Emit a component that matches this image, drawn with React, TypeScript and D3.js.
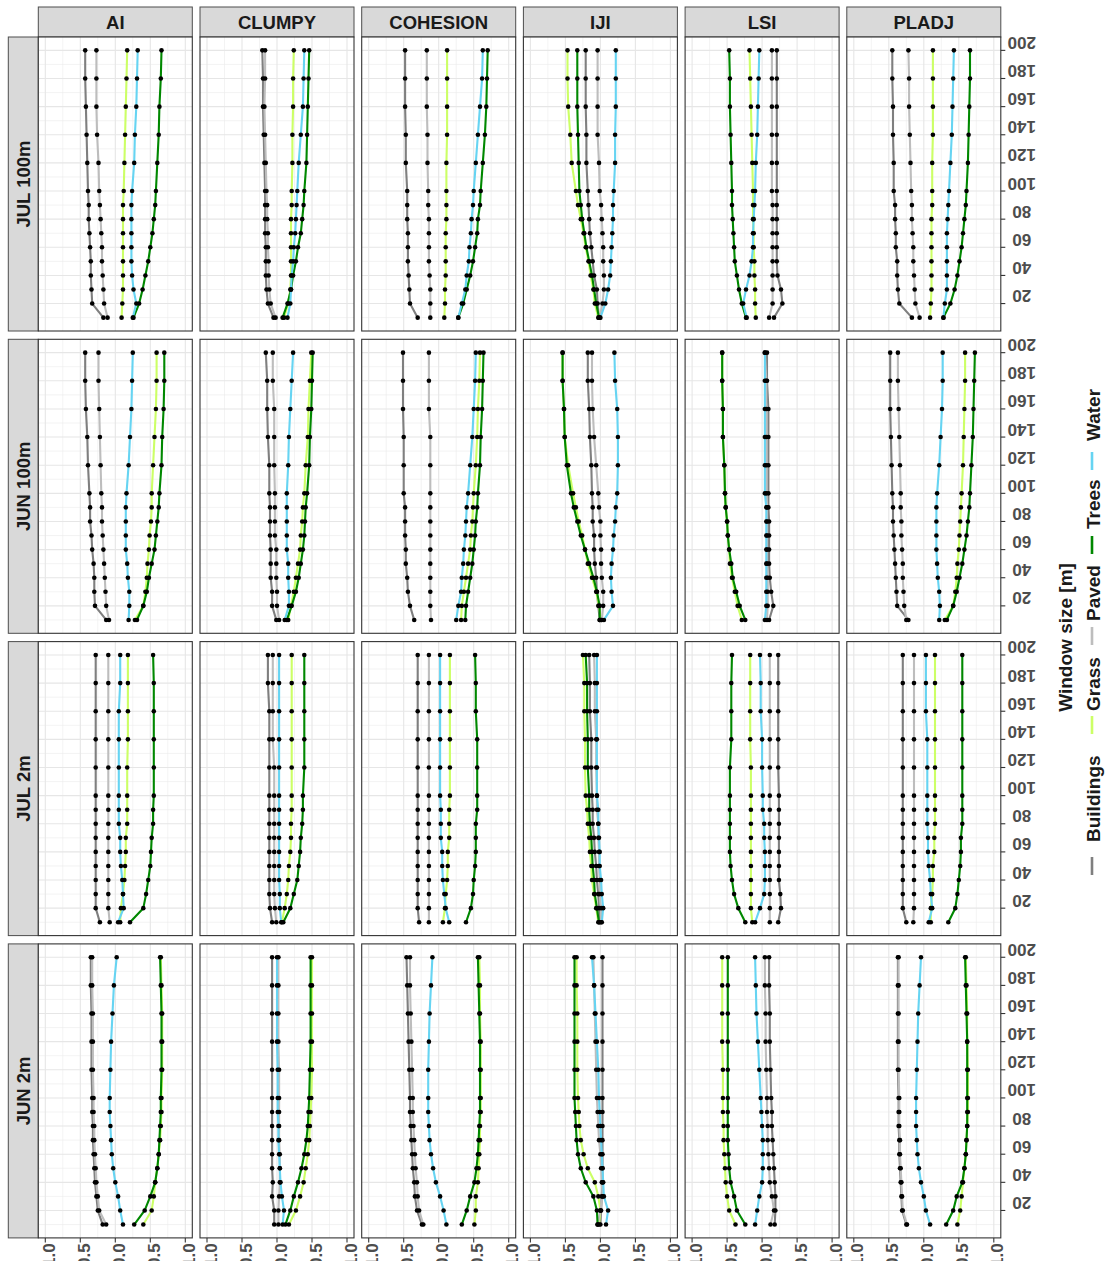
import React from 'react';
import * as d3 from 'd3';

// window sizes [m] on the vertical axis, values on the horizontal one
const windowSizes = [10, 20, 30, 40, 50, 60, 70, 80, 90, 100, 120, 140, 160, 180, 200];
const windowTicks = [20, 40, 60, 80, 100, 120, 140, 160, 180, 200];
const valueTicks = [1, 0.5, 0, -0.5, -1];
const valueTickLabels = ['1.0', '0.5', '0.0', '-0.5', '-1.0'];
const metrics = ['AI', 'CLUMPY', 'COHESION', 'IJI', 'LSI', 'PLADJ'];
const datasets = ['JUL 100m', 'JUN 100m', 'JUL 2m', 'JUN 2m'];
const classes = ['Buildings', 'Grass', 'Paved', 'Trees', 'Water'];
const classColors = ['#7f7f7f', '#ccff66', '#bdbdbd', '#008800', '#66d4f2'];

// every block: [Buildings, Grass, Paved, Trees, Water], one value per window size
const jul100AI = [
  [0.17, 0.33, 0.34, 0.35, 0.35, 0.36, 0.37, 0.38, 0.38, 0.39, 0.40, 0.41, 0.42, 0.43, 0.43],
  [-0.09, -0.10, -0.11, -0.11, -0.11, -0.11, -0.11, -0.11, -0.11, -0.12, -0.13, -0.14, -0.15, -0.16, -0.17],
  [0.11, 0.16, 0.17, 0.18, 0.19, 0.19, 0.20, 0.21, 0.22, 0.23, 0.24, 0.26, 0.27, 0.27, 0.27],
  [-0.26, -0.34, -0.39, -0.43, -0.47, -0.50, -0.53, -0.55, -0.57, -0.58, -0.60, -0.62, -0.63, -0.65, -0.66],
  [-0.25, -0.30, -0.26, -0.24, -0.23, -0.23, -0.23, -0.23, -0.23, -0.24, -0.27, -0.28, -0.30, -0.31, -0.32],
];
const jul100CLUMPY = [
  [0.05, 0.13, 0.15, 0.16, 0.16, 0.16, 0.17, 0.17, 0.17, 0.17, 0.18, 0.19, 0.20, 0.20, 0.21],
  [-0.10, -0.16, -0.19, -0.20, -0.20, -0.20, -0.20, -0.20, -0.21, -0.21, -0.22, -0.22, -0.23, -0.23, -0.24],
  [0.02, 0.09, 0.11, 0.12, 0.12, 0.13, 0.13, 0.14, 0.14, 0.15, 0.16, 0.17, 0.18, 0.17, 0.17],
  [-0.08, -0.15, -0.20, -0.23, -0.27, -0.30, -0.34, -0.36, -0.38, -0.39, -0.42, -0.43, -0.44, -0.45, -0.46],
  [-0.15, -0.19, -0.20, -0.21, -0.23, -0.24, -0.26, -0.27, -0.28, -0.29, -0.31, -0.34, -0.37, -0.38, -0.39],
];
const jul100COHESION = [
  [0.30, 0.41, 0.42, 0.43, 0.44, 0.44, 0.44, 0.45, 0.45, 0.45, 0.47, 0.47, 0.48, 0.48, 0.48],
  [-0.08, -0.09, -0.09, -0.10, -0.10, -0.10, -0.10, -0.11, -0.11, -0.11, -0.11, -0.12, -0.12, -0.12, -0.12],
  [0.12, 0.12, 0.12, 0.13, 0.14, 0.14, 0.14, 0.14, 0.15, 0.15, 0.16, 0.16, 0.17, 0.17, 0.17],
  [-0.28, -0.35, -0.40, -0.45, -0.49, -0.52, -0.55, -0.56, -0.59, -0.60, -0.63, -0.66, -0.68, -0.69, -0.70],
  [-0.28, -0.33, -0.38, -0.40, -0.43, -0.44, -0.46, -0.47, -0.49, -0.50, -0.53, -0.56, -0.59, -0.62, -0.63],
];
const jul100IJI = [
  [0.02, 0.04, 0.05, 0.09, 0.11, 0.13, 0.15, 0.16, 0.17, 0.18, 0.20, 0.20, 0.21, 0.21, 0.21],
  [0.03, 0.08, 0.10, 0.14, 0.17, 0.21, 0.24, 0.28, 0.32, 0.35, 0.41, 0.43, 0.46, 0.47, 0.47],
  [0.01, -0.03, -0.05, -0.05, -0.04, -0.04, -0.03, -0.02, -0.01, 0.01, 0.02, 0.04, 0.04, 0.04, 0.04],
  [0.02, 0.06, 0.09, 0.12, 0.16, 0.20, 0.23, 0.26, 0.28, 0.30, 0.31, 0.32, 0.33, 0.33, 0.33],
  [0.00, -0.07, -0.11, -0.14, -0.15, -0.16, -0.17, -0.18, -0.18, -0.19, -0.21, -0.21, -0.22, -0.22, -0.22],
];
const jul100LSI = [
  [-0.17, -0.29, -0.27, -0.22, -0.21, -0.21, -0.21, -0.21, -0.21, -0.21, -0.21, -0.21, -0.21, -0.21, -0.21],
  [0.09, 0.10, 0.10, 0.11, 0.11, 0.12, 0.12, 0.13, 0.13, 0.13, 0.14, 0.15, 0.16, 0.17, 0.18],
  [-0.10, -0.15, -0.15, -0.15, -0.15, -0.15, -0.15, -0.15, -0.15, -0.14, -0.14, -0.14, -0.14, -0.14, -0.14],
  [0.23, 0.29, 0.33, 0.36, 0.39, 0.40, 0.41, 0.42, 0.43, 0.43, 0.44, 0.45, 0.46, 0.46, 0.47],
  [0.22, 0.27, 0.23, 0.18, 0.15, 0.13, 0.13, 0.12, 0.11, 0.10, 0.09, 0.07, 0.06, 0.05, 0.04],
];
const jul100PLADJ = [
  [0.17, 0.35, 0.37, 0.38, 0.38, 0.40, 0.40, 0.41, 0.41, 0.43, 0.43, 0.44, 0.44, 0.45, 0.45],
  [-0.09, -0.10, -0.11, -0.11, -0.11, -0.11, -0.11, -0.11, -0.12, -0.12, -0.12, -0.13, -0.13, -0.13, -0.13],
  [0.06, 0.12, 0.13, 0.14, 0.15, 0.15, 0.16, 0.17, 0.17, 0.18, 0.19, 0.20, 0.21, 0.21, 0.22],
  [-0.28, -0.38, -0.44, -0.48, -0.51, -0.54, -0.56, -0.58, -0.60, -0.61, -0.63, -0.64, -0.65, -0.66, -0.66],
  [-0.28, -0.30, -0.33, -0.33, -0.33, -0.33, -0.33, -0.34, -0.35, -0.36, -0.38, -0.40, -0.41, -0.42, -0.43],
];

const jun100AI = [
  [0.13, 0.29, 0.30, 0.30, 0.31, 0.33, 0.34, 0.36, 0.36, 0.37, 0.39, 0.40, 0.42, 0.43, 0.43],
  [-0.28, -0.40, -0.43, -0.45, -0.46, -0.48, -0.49, -0.51, -0.52, -0.52, -0.54, -0.56, -0.58, -0.59, -0.59],
  [0.09, 0.13, 0.14, 0.15, 0.16, 0.17, 0.18, 0.19, 0.19, 0.20, 0.21, 0.22, 0.23, 0.24, 0.24],
  [-0.31, -0.40, -0.45, -0.48, -0.52, -0.56, -0.58, -0.60, -0.62, -0.63, -0.66, -0.67, -0.69, -0.70, -0.70],
  [-0.19, -0.20, -0.20, -0.18, -0.17, -0.15, -0.15, -0.15, -0.15, -0.16, -0.19, -0.21, -0.23, -0.24, -0.25],
];
const jun100CLUMPY = [
  [0.01, 0.07, 0.07, 0.09, 0.09, 0.09, 0.10, 0.10, 0.10, 0.11, 0.11, 0.13, 0.14, 0.14, 0.16],
  [-0.16, -0.20, -0.24, -0.27, -0.30, -0.33, -0.34, -0.36, -0.37, -0.39, -0.41, -0.44, -0.45, -0.47, -0.49],
  [-0.03, 0.00, 0.00, 0.01, 0.01, 0.01, 0.03, 0.03, 0.03, 0.03, 0.04, 0.04, 0.04, 0.06, 0.06],
  [-0.14, -0.21, -0.27, -0.31, -0.34, -0.37, -0.39, -0.40, -0.41, -0.43, -0.46, -0.47, -0.49, -0.50, -0.51],
  [-0.11, -0.17, -0.17, -0.16, -0.16, -0.14, -0.14, -0.14, -0.14, -0.14, -0.16, -0.17, -0.19, -0.21, -0.23],
];
const jun100COHESION = [
  [0.35, 0.41, 0.44, 0.45, 0.47, 0.47, 0.48, 0.48, 0.48, 0.50, 0.50, 0.50, 0.51, 0.51, 0.51],
  [-0.32, -0.33, -0.36, -0.39, -0.42, -0.45, -0.46, -0.48, -0.49, -0.50, -0.53, -0.55, -0.56, -0.58, -0.59],
  [0.11, 0.12, 0.12, 0.12, 0.12, 0.12, 0.12, 0.12, 0.12, 0.12, 0.12, 0.12, 0.14, 0.14, 0.14],
  [-0.38, -0.39, -0.42, -0.45, -0.48, -0.50, -0.52, -0.53, -0.55, -0.56, -0.59, -0.60, -0.62, -0.63, -0.64],
  [-0.25, -0.28, -0.32, -0.33, -0.35, -0.36, -0.38, -0.39, -0.40, -0.42, -0.45, -0.48, -0.50, -0.52, -0.53],
];
const jun100IJI = [
  [0.01, 0.03, 0.05, 0.06, 0.08, 0.09, 0.09, 0.11, 0.11, 0.12, 0.13, 0.15, 0.16, 0.18, 0.18],
  [-0.01, 0.02, 0.06, 0.12, 0.18, 0.22, 0.26, 0.31, 0.35, 0.39, 0.46, 0.51, 0.52, 0.54, 0.54],
  [-0.02, -0.04, -0.04, -0.02, -0.01, -0.01, 0.00, 0.00, 0.02, 0.03, 0.06, 0.09, 0.11, 0.12, 0.12],
  [0.01, 0.01, 0.05, 0.10, 0.16, 0.22, 0.28, 0.33, 0.38, 0.42, 0.48, 0.51, 0.52, 0.54, 0.54],
  [-0.05, -0.18, -0.16, -0.15, -0.16, -0.18, -0.19, -0.21, -0.22, -0.24, -0.25, -0.25, -0.24, -0.21, -0.20],
];
const jun100LSI = [
  [-0.10, -0.16, -0.13, -0.11, -0.10, -0.10, -0.10, -0.10, -0.09, -0.09, -0.09, -0.09, -0.09, -0.07, -0.07],
  [0.29, 0.35, 0.39, 0.43, 0.46, 0.47, 0.49, 0.50, 0.52, 0.53, 0.54, 0.56, 0.56, 0.57, 0.57],
  [-0.07, -0.08, -0.08, -0.08, -0.07, -0.07, -0.07, -0.07, -0.07, -0.06, -0.06, -0.06, -0.06, -0.06, -0.04],
  [0.24, 0.32, 0.37, 0.42, 0.44, 0.47, 0.49, 0.50, 0.52, 0.53, 0.54, 0.56, 0.56, 0.57, 0.57],
  [-0.04, -0.06, -0.06, -0.06, -0.06, -0.06, -0.06, -0.06, -0.06, -0.04, -0.04, -0.04, -0.04, -0.04, -0.04],
];
const jun100PLADJ = [
  [0.22, 0.38, 0.39, 0.40, 0.41, 0.42, 0.43, 0.44, 0.44, 0.45, 0.46, 0.47, 0.48, 0.48, 0.48],
  [-0.30, -0.42, -0.45, -0.47, -0.48, -0.50, -0.51, -0.52, -0.53, -0.54, -0.56, -0.57, -0.58, -0.59, -0.59],
  [0.25, 0.28, 0.29, 0.30, 0.30, 0.31, 0.32, 0.32, 0.33, 0.33, 0.34, 0.35, 0.36, 0.37, 0.37],
  [-0.33, -0.42, -0.47, -0.51, -0.55, -0.58, -0.61, -0.63, -0.65, -0.66, -0.68, -0.70, -0.71, -0.72, -0.73],
  [-0.22, -0.23, -0.22, -0.20, -0.19, -0.18, -0.18, -0.18, -0.18, -0.19, -0.22, -0.24, -0.26, -0.27, -0.27],
];

const jul2AI = [
  [0.22, 0.28, 0.28, 0.28, 0.28, 0.28, 0.28, 0.28, 0.28, 0.28, 0.28, 0.28, 0.28, 0.28, 0.28],
  [-0.07, -0.08, -0.11, -0.13, -0.14, -0.15, -0.15, -0.17, -0.17, -0.17, -0.17, -0.18, -0.18, -0.18, -0.18],
  [0.08, 0.10, 0.10, 0.10, 0.10, 0.10, 0.10, 0.10, 0.10, 0.10, 0.10, 0.10, 0.10, 0.10, 0.10],
  [-0.21, -0.40, -0.44, -0.47, -0.50, -0.51, -0.52, -0.54, -0.54, -0.55, -0.55, -0.55, -0.55, -0.55, -0.54],
  [-0.04, -0.12, -0.11, -0.10, -0.08, -0.07, -0.07, -0.05, -0.05, -0.05, -0.05, -0.05, -0.05, -0.07, -0.07],
];
const jul2CLUMPY = [
  [0.07, 0.10, 0.11, 0.11, 0.11, 0.11, 0.11, 0.11, 0.11, 0.11, 0.11, 0.11, 0.11, 0.13, 0.13],
  [-0.07, -0.11, -0.14, -0.16, -0.17, -0.19, -0.20, -0.20, -0.21, -0.21, -0.21, -0.21, -0.21, -0.21, -0.21],
  [0.01, 0.03, 0.04, 0.04, 0.04, 0.04, 0.04, 0.04, 0.04, 0.04, 0.04, 0.06, 0.06, 0.06, 0.06],
  [-0.09, -0.19, -0.24, -0.29, -0.31, -0.33, -0.34, -0.36, -0.37, -0.37, -0.39, -0.39, -0.39, -0.39, -0.39],
  [-0.06, -0.04, -0.04, -0.03, -0.03, -0.03, -0.03, -0.03, -0.03, -0.03, -0.03, -0.03, -0.03, -0.03, -0.03],
];
const jul2COHESION = [
  [0.28, 0.30, 0.30, 0.30, 0.30, 0.30, 0.30, 0.30, 0.30, 0.30, 0.30, 0.30, 0.30, 0.30, 0.30],
  [-0.06, -0.09, -0.10, -0.12, -0.13, -0.13, -0.15, -0.15, -0.15, -0.16, -0.16, -0.16, -0.16, -0.16, -0.16],
  [0.14, 0.14, 0.14, 0.14, 0.14, 0.14, 0.14, 0.14, 0.14, 0.14, 0.14, 0.14, 0.14, 0.14, 0.14],
  [-0.39, -0.46, -0.49, -0.50, -0.52, -0.53, -0.53, -0.53, -0.55, -0.55, -0.55, -0.55, -0.53, -0.53, -0.52],
  [-0.15, -0.10, -0.08, -0.06, -0.05, -0.05, -0.03, -0.03, -0.03, -0.02, -0.02, -0.02, -0.02, -0.02, -0.02],
];
const jul2IJI = [
  [0.01, 0.02, 0.03, 0.05, 0.06, 0.08, 0.09, 0.11, 0.11, 0.12, 0.13, 0.13, 0.15, 0.15, 0.16],
  [0.03, 0.06, 0.09, 0.12, 0.13, 0.15, 0.16, 0.18, 0.19, 0.21, 0.22, 0.22, 0.23, 0.23, 0.25],
  [-0.01, -0.01, 0.01, 0.01, 0.02, 0.02, 0.03, 0.03, 0.05, 0.05, 0.06, 0.06, 0.08, 0.08, 0.09],
  [0.02, 0.05, 0.08, 0.09, 0.11, 0.12, 0.13, 0.15, 0.16, 0.16, 0.18, 0.18, 0.19, 0.19, 0.21],
  [-0.02, -0.04, -0.02, -0.01, 0.01, 0.01, 0.02, 0.03, 0.03, 0.05, 0.05, 0.05, 0.05, 0.05, 0.05],
];
const jul2LSI = [
  [-0.23, -0.27, -0.26, -0.24, -0.24, -0.24, -0.24, -0.24, -0.24, -0.24, -0.23, -0.23, -0.23, -0.23, -0.23],
  [0.14, 0.16, 0.16, 0.16, 0.16, 0.16, 0.16, 0.16, 0.16, 0.16, 0.16, 0.17, 0.17, 0.17, 0.17],
  [-0.11, -0.11, -0.11, -0.11, -0.11, -0.11, -0.11, -0.11, -0.11, -0.11, -0.11, -0.11, -0.11, -0.11, -0.11],
  [0.24, 0.34, 0.40, 0.43, 0.45, 0.46, 0.46, 0.46, 0.46, 0.46, 0.46, 0.44, 0.44, 0.44, 0.43],
  [0.10, 0.03, -0.03, -0.04, -0.04, -0.04, -0.03, -0.03, -0.01, -0.01, 0.00, 0.00, 0.02, 0.02, 0.03],
];
const jul2PLADJ = [
  [0.25, 0.30, 0.30, 0.30, 0.30, 0.30, 0.30, 0.30, 0.30, 0.30, 0.30, 0.30, 0.30, 0.30, 0.30],
  [-0.10, -0.10, -0.12, -0.13, -0.13, -0.15, -0.15, -0.16, -0.16, -0.16, -0.16, -0.16, -0.16, -0.16, -0.16],
  [0.15, 0.14, 0.14, 0.14, 0.14, 0.14, 0.14, 0.14, 0.14, 0.14, 0.14, 0.14, 0.14, 0.14, 0.14],
  [-0.35, -0.45, -0.48, -0.50, -0.52, -0.53, -0.53, -0.55, -0.55, -0.55, -0.55, -0.55, -0.55, -0.55, -0.55],
  [-0.07, -0.12, -0.10, -0.09, -0.07, -0.06, -0.06, -0.05, -0.05, -0.05, -0.05, -0.05, -0.03, -0.03, -0.03],
];

const jun2AI = [
  [0.18, 0.25, 0.27, 0.29, 0.30, 0.31, 0.32, 0.32, 0.33, 0.33, 0.34, 0.34, 0.34, 0.35, 0.35],
  [-0.40, -0.52, -0.55, -0.57, -0.60, -0.62, -0.64, -0.65, -0.66, -0.66, -0.67, -0.67, -0.67, -0.66, -0.65],
  [0.13, 0.23, 0.25, 0.27, 0.28, 0.29, 0.30, 0.30, 0.31, 0.31, 0.32, 0.32, 0.32, 0.33, 0.33],
  [-0.27, -0.42, -0.50, -0.57, -0.60, -0.62, -0.63, -0.64, -0.65, -0.65, -0.66, -0.66, -0.66, -0.65, -0.64],
  [-0.11, -0.07, -0.04, 0.00, 0.03, 0.05, 0.06, 0.07, 0.08, 0.08, 0.07, 0.06, 0.04, 0.02, -0.02],
];
const jun2CLUMPY = [
  [0.04, 0.04, 0.07, 0.06, 0.07, 0.07, 0.07, 0.07, 0.07, 0.07, 0.07, 0.07, 0.07, 0.07, 0.07],
  [-0.17, -0.27, -0.33, -0.38, -0.41, -0.44, -0.46, -0.47, -0.48, -0.49, -0.50, -0.50, -0.50, -0.50, -0.50],
  [-0.02, -0.02, -0.03, -0.04, -0.04, -0.04, -0.03, -0.03, -0.03, -0.03, -0.03, -0.02, -0.02, -0.02, -0.02],
  [-0.12, -0.19, -0.24, -0.30, -0.35, -0.39, -0.42, -0.44, -0.45, -0.46, -0.47, -0.48, -0.48, -0.48, -0.48],
  [-0.08, -0.10, -0.07, -0.05, -0.04, -0.03, -0.02, -0.02, -0.01, -0.01, -0.01, 0.00, 0.00, 0.00, 0.00],
];
const jun2COHESION = [
  [0.24, 0.31, 0.34, 0.35, 0.37, 0.38, 0.39, 0.40, 0.41, 0.41, 0.42, 0.43, 0.44, 0.45, 0.46],
  [-0.51, -0.53, -0.53, -0.56, -0.57, -0.58, -0.59, -0.59, -0.60, -0.60, -0.60, -0.60, -0.59, -0.59, -0.58],
  [0.22, 0.28, 0.30, 0.31, 0.33, 0.34, 0.35, 0.36, 0.37, 0.37, 0.38, 0.39, 0.40, 0.41, 0.41],
  [-0.33, -0.40, -0.45, -0.51, -0.54, -0.56, -0.57, -0.58, -0.59, -0.59, -0.59, -0.59, -0.58, -0.57, -0.56],
  [-0.11, -0.07, -0.02, 0.04, 0.08, 0.11, 0.13, 0.14, 0.15, 0.15, 0.15, 0.14, 0.13, 0.11, 0.09],
];
const jun2IJI = [
  [0.00, -0.01, -0.02, -0.03, -0.03, -0.03, -0.03, -0.03, -0.03, -0.03, -0.03, -0.03, -0.03, -0.03, -0.03],
  [0.02, 0.00, 0.03, 0.08, 0.18, 0.24, 0.28, 0.30, 0.31, 0.32, 0.33, 0.33, 0.33, 0.34, 0.34],
  [0.04, 0.00, -0.03, -0.02, -0.01, 0.00, 0.02, 0.03, 0.04, 0.05, 0.06, 0.07, 0.08, 0.09, 0.10],
  [0.04, 0.05, 0.10, 0.21, 0.28, 0.32, 0.34, 0.35, 0.36, 0.37, 0.37, 0.37, 0.37, 0.37, 0.37],
  [-0.08, -0.11, -0.05, -0.04, -0.03, -0.02, -0.01, 0.00, 0.01, 0.02, 0.03, 0.05, 0.07, 0.09, 0.12],
];
const jun2LSI = [
  [-0.18, -0.19, -0.19, -0.18, -0.17, -0.16, -0.15, -0.14, -0.14, -0.13, -0.12, -0.11, -0.11, -0.10, -0.10],
  [0.38, 0.47, 0.50, 0.52, 0.53, 0.54, 0.55, 0.55, 0.56, 0.56, 0.56, 0.57, 0.57, 0.57, 0.57],
  [-0.12, -0.17, -0.14, -0.11, -0.10, -0.09, -0.08, -0.08, -0.07, -0.07, -0.06, -0.05, -0.05, -0.04, -0.04],
  [0.24, 0.36, 0.40, 0.45, 0.47, 0.48, 0.49, 0.49, 0.49, 0.49, 0.49, 0.49, 0.49, 0.49, 0.49],
  [0.10, 0.07, 0.04, 0.00, -0.01, -0.01, -0.01, 0.00, 0.01, 0.02, 0.04, 0.06, 0.08, 0.09, 0.10],
];
const jun2PLADJ = [
  [0.25, 0.31, 0.32, 0.33, 0.34, 0.35, 0.35, 0.36, 0.36, 0.36, 0.37, 0.37, 0.37, 0.37, 0.37],
  [-0.48, -0.52, -0.54, -0.56, -0.58, -0.60, -0.61, -0.62, -0.63, -0.63, -0.63, -0.62, -0.62, -0.61, -0.60],
  [0.24, 0.30, 0.31, 0.32, 0.33, 0.34, 0.34, 0.35, 0.35, 0.35, 0.36, 0.36, 0.36, 0.36, 0.36],
  [-0.32, -0.42, -0.47, -0.55, -0.58, -0.60, -0.61, -0.62, -0.62, -0.62, -0.62, -0.62, -0.61, -0.60, -0.59],
  [-0.09, -0.03, 0.00, 0.04, 0.07, 0.09, 0.10, 0.11, 0.11, 0.11, 0.10, 0.09, 0.08, 0.06, 0.04],
];

// rows follow datasets, columns follow metrics
const grid = [
  [jul100AI, jul100CLUMPY, jul100COHESION, jul100IJI, jul100LSI, jul100PLADJ],
  [jun100AI, jun100CLUMPY, jun100COHESION, jun100IJI, jun100LSI, jun100PLADJ],
  [jul2AI, jul2CLUMPY, jul2COHESION, jul2IJI, jul2LSI, jul2PLADJ],
  [jun2AI, jun2CLUMPY, jun2COHESION, jun2IJI, jun2LSI, jun2PLADJ],
];

const W = 1107;
const H = 1261;
const panelX0 = 38.3;
const panelW = 154;
const colStep = 161.7;
const panelY0 = 37;
const panelH = 294;
const rowStep = 302.3;
const stripH = 30;
const font = "'Liberation Sans', Arial, Helvetica, sans-serif";

// legend layout along the right edge (reads bottom to top)
const legendKeyY = [866, 725, 636, 545, 461];
const legendTextY = [842, 711, 621, 529, 441];

export default function App() {
  const xScales = metrics.map((_, i) =>
    d3.scaleLinear().domain([1.1, -1.1]).range([panelX0 + i * colStep, panelX0 + i * colStep + panelW])
  );
  const yScales = datasets.map((_, j) =>
    d3.scaleLinear().domain([0.5, 209.5]).range([panelY0 + j * rowStep + panelH, panelY0 + j * rowStep])
  );
  const majorV = valueTicks;
  const minorV = [-0.75, -0.25, 0.25, 0.75];
  const majorW = windowTicks;
  const minorW = d3.range(10, 200, 20);
  const bottom = panelY0 + 3 * rowStep + panelH;
  const right = panelX0 + 5 * colStep + panelW;

  return (
    <svg width={W} height={H} style={{ position: 'absolute', left: 0, top: 0, background: '#fff' }} fontFamily={font}>
      <rect width={W} height={H} fill="#fff" />

      {/* column strips */}
      {metrics.map((m, i) => {
        const [x0, x1] = xScales[i].range();
        return (
          <g key={m}>
            <rect x={x0} y={panelY0 - stripH} width={x1 - x0} height={stripH} fill="#d9d9d9" stroke="#4d4d4d" strokeWidth={1} />
            <text x={(x0 + x1) / 2} y={panelY0 - stripH / 2} textAnchor="middle" dominantBaseline="central"
              fontSize={18.5} fontWeight="bold" fill="#1a1a1a">{m}</text>
          </g>
        );
      })}

      {/* row strips */}
      {datasets.map((d, j) => {
        const [y1, y0] = yScales[j].range();
        const cx = panelX0 - stripH / 2;
        return (
          <g key={d}>
            <rect x={panelX0 - stripH} y={y0} width={stripH} height={y1 - y0} fill="#d9d9d9" stroke="#4d4d4d" strokeWidth={1} />
            <text transform={`translate(${cx},${(y0 + y1) / 2}) rotate(-90)`} textAnchor="middle" dominantBaseline="central"
              fontSize={18.5} fontWeight="bold" fill="#1a1a1a">{d}</text>
          </g>
        );
      })}

      {/* panels */}
      {datasets.map((d, j) =>
        metrics.map((m, i) => {
          const xs = xScales[i];
          const ys = yScales[j];
          const [x0, x1] = xs.range();
          const [y1, y0] = ys.range();
          const blocks = grid[j][i];
          const line = d3.line<number>()
            .x((v) => xs(v))
            .y((_, k) => ys(windowSizes[k]));
          return (
            <g key={d + m}>
              <rect x={x0} y={y0} width={x1 - x0} height={y1 - y0} fill="#fff" />
              {minorV.map((v) => (
                <line key={'mv' + v} x1={xs(v)} x2={xs(v)} y1={y0} y2={y1} stroke="#ebebeb" strokeWidth={0.6} />
              ))}
              {minorW.map((w) => (
                <line key={'mw' + w} x1={x0} x2={x1} y1={ys(w)} y2={ys(w)} stroke="#ebebeb" strokeWidth={0.6} />
              ))}
              {majorV.map((v) => (
                <line key={'Mv' + v} x1={xs(v)} x2={xs(v)} y1={y0} y2={y1} stroke="#e6e6e6" strokeWidth={1.1} />
              ))}
              {majorW.map((w) => (
                <line key={'Mw' + w} x1={x0} x2={x1} y1={ys(w)} y2={ys(w)} stroke="#e6e6e6" strokeWidth={1.1} />
              ))}
              {blocks.map((vals, c) => (
                <path key={'l' + c} d={line(vals) || ''} fill="none" stroke={classColors[c]} strokeWidth={2.1}
                  strokeLinejoin="round" />
              ))}
              {blocks.map((vals, c) =>
                vals.map((v, k) => (
                  <circle key={'p' + c + '-' + k} cx={xs(v)} cy={ys(windowSizes[k])} r={2.3} fill="#000" />
                ))
              )}
              <rect x={x0} y={y0} width={x1 - x0} height={y1 - y0} fill="none" stroke="#333" strokeWidth={1.1} />
            </g>
          );
        })
      )}

      {/* bottom value axis */}
      {metrics.map((m, i) => (
        <g key={'ax' + m}>
          {valueTicks.map((v, t) => (
            <g key={v}>
              <line x1={xScales[i](v)} x2={xScales[i](v)} y1={bottom} y2={bottom + 4.5} stroke="#333" strokeWidth={1.1} />
              <text transform={`translate(${xScales[i](v) + 4},${bottom + 5.5}) rotate(-90)`} textAnchor="end"
                dominantBaseline="central" fontSize={17} fontWeight="bold" fill="#4d4d4d">{valueTickLabels[t]}</text>
            </g>
          ))}
        </g>
      ))}

      {/* right window-size axis */}
      {datasets.map((d, j) => (
        <g key={'ay' + d}>
          {windowTicks.map((w) => (
            <g key={w}>
              <line x1={right} x2={right + 4.5} y1={yScales[j](w)} y2={yScales[j](w)} stroke="#333" strokeWidth={1.1} />
              <text transform={`translate(${right + 21},${yScales[j](w) - 8}) rotate(180)`} textAnchor="middle"
                dominantBaseline="central" fontSize={17} fontWeight="bold" fill="#4d4d4d">{w}</text>
            </g>
          ))}
        </g>
      ))}

      {/* axis title */}
      <text transform={`translate(1065,${(panelY0 + bottom) / 2}) rotate(-90)`} textAnchor="middle" dominantBaseline="central"
        fontSize={19} fontWeight="bold" fill="#1a1a1a">Window size [m]</text>

      {/* legend */}
      {classes.map((c, k) => (
        <g key={c}>
          <line x1={1092} x2={1092} y1={legendKeyY[k] + 9} y2={legendKeyY[k] - 9} stroke={classColors[k]} strokeWidth={2.6} />
          <text transform={`translate(1093,${legendTextY[k]}) rotate(-90)`} textAnchor="start" dominantBaseline="central"
            fontSize={19} fontWeight="bold" fill="#1a1a1a">{c}</text>
        </g>
      ))}
    </svg>
  );
}
